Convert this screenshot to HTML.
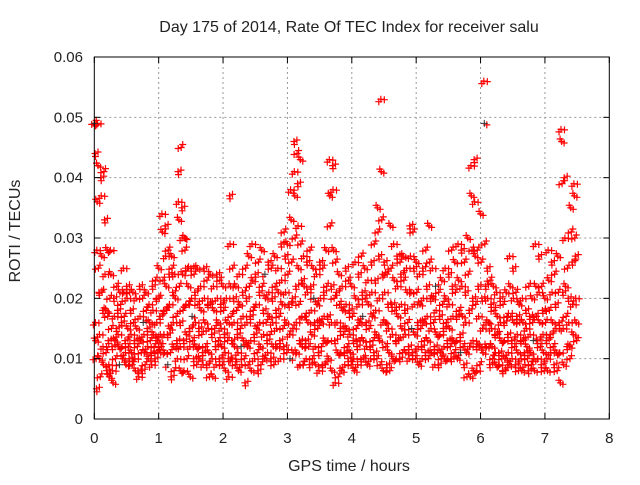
<!DOCTYPE html>
<html><head><meta charset="utf-8"><style>
body{margin:0;background:#fff}
svg text{font-family:"Liberation Sans",sans-serif;font-size:15px;fill:#222}
svg text.lab{font-size:16px}
</style></head><body>
<svg id="chart" width="640" height="480" viewBox="0 0 640 480" xmlns="http://www.w3.org/2000/svg">
<rect width="640" height="480" fill="#fff"/>
<g id="grid"></g>
<g id="pts"></g>
<rect x="94.3" y="57" width="515" height="362" fill="none" stroke="#000" stroke-width="1"/>
<g id="ticks"></g>
<text class="lab" x="349" y="32" text-anchor="middle">Day 175 of 2014, Rate Of TEC Index for receiver salu</text>
<text class="lab" x="349" y="471" text-anchor="middle">GPS time / hours</text>
<text class="lab" x="20" y="231" text-anchor="middle" transform="rotate(-90 20 231)">ROTI / TECUs</text>
</svg>
<script>
const xTicks=[0,1,2,3,4,5,6,7,8];
const yTicks=[0,0.01,0.02,0.03,0.04,0.05,0.06];
const yTickLabels=["0","0.01","0.02","0.03","0.04","0.05","0.06"];
const hours=[];for(let i=0;i<=149;i++)hours.push(+(i*0.05).toFixed(2));
const roti=[
[0.049,0.049,0.044,0.016,0.013,0.010,0.005,0.028,0.036],[0.049,0.042,0.025,0.021,0.014,0.010,0.007],[0.040,0.037,0.027,0.021,0.018,0.012,0.009],[0.041,0.033,0.024,0.018,0.011,0.008],[0.028,0.017,0.013,0.009,0.007,0.020],
[0.028,0.024,0.015,0.012,0.008,0.006],[0.020,0.017,0.013,0.010,0.015],[0.022,0.018,0.014,0.012,0.009],[0.021,0.019,0.016,0.012,0.010],[0.025,0.021,0.017,0.013,0.011,0.009],
[0.022,0.020,0.015,0.012,0.010],[0.021,0.018,0.014,0.011,0.009],[0.021,0.016,0.013,0.010,0.008],[0.020,0.015,0.012,0.008,0.007],[0.022,0.017,0.013,0.011,0.008],
[0.020,0.016,0.014,0.011,0.009],[0.021,0.018,0.015,0.012,0.010],[0.019,0.016,0.013,0.011,0.009],[0.022,0.018,0.014,0.012,0.010],[0.023,0.020,0.016,0.013,0.011],
[0.025,0.020,0.017,0.014,0.011,0.012],[0.034,0.031,0.023,0.018,0.014,0.011],[0.032,0.027,0.022,0.018,0.014,0.009],[0.028,0.024,0.019,0.015,0.011,0.007],[0.027,0.025,0.021,0.016,0.012,0.008],
[0.024,0.020,0.017,0.013,0.010],[0.041,0.036,0.033,0.022,0.016,0.012,0.008],[0.045,0.035,0.030,0.024,0.018,0.013,0.008],[0.030,0.028,0.025,0.019,0.014,0.010],[0.025,0.022,0.019,0.015,0.012,0.007],
[0.025,0.020,0.017,0.013,0.010],[0.024,0.021,0.016,0.012,0.009],[0.025,0.019,0.015,0.012,0.010],[0.022,0.018,0.014,0.011,0.009],[0.025,0.020,0.016,0.012,0.009],
[0.023,0.019,0.015,0.011,0.007],[0.024,0.019,0.014,0.010,0.007],[0.022,0.018,0.015,0.012,0.009],[0.024,0.020,0.016,0.013,0.010],[0.023,0.019,0.015,0.012,0.009],
[0.022,0.018,0.014,0.011,0.008],[0.020,0.016,0.013,0.010,0.007],[0.037,0.029,0.022,0.017,0.013,0.010],[0.025,0.020,0.016,0.012,0.009],[0.022,0.018,0.014,0.011,0.008],
[0.024,0.019,0.015,0.012,0.009],[0.021,0.017,0.013,0.010,0.006],[0.025,0.020,0.016,0.012,0.009],[0.027,0.022,0.017,0.013,0.008],[0.029,0.023,0.018,0.014,0.010],
[0.024,0.019,0.015,0.011,0.008],[0.026,0.021,0.016,0.012,0.009],[0.028,0.022,0.018,0.014,0.010],[0.024,0.020,0.016,0.013,0.011],[0.026,0.021,0.017,0.014,0.010],
[0.025,0.020,0.016,0.012,0.009],[0.027,0.022,0.018,0.015,0.012],[0.025,0.021,0.017,0.013,0.010],[0.029,0.023,0.019,0.015,0.012],[0.031,0.027,0.021,0.016,0.011],
[0.029,0.024,0.019,0.014,0.010],[0.038,0.033,0.026,0.020,0.015,0.011],[0.046,0.041,0.037,0.030,0.022,0.016,0.011],[0.044,0.039,0.032,0.025,0.019,0.013,0.009],[0.043,0.029,0.023,0.017,0.012,0.009],
[0.027,0.022,0.017,0.013,0.010],[0.026,0.021,0.016,0.012,0.009],[0.028,0.022,0.018,0.014,0.010],[0.025,0.020,0.016,0.012,0.009],[0.024,0.019,0.015,0.011,0.008],
[0.026,0.020,0.016,0.012,0.009],[0.025,0.021,0.017,0.013,0.009],[0.028,0.022,0.017,0.013,0.010],[0.043,0.037,0.032,0.022,0.016,0.008],[0.042,0.038,0.028,0.020,0.013,0.006],
[0.026,0.021,0.016,0.011,0.007],[0.024,0.019,0.015,0.011,0.008],[0.022,0.018,0.014,0.011,0.009],[0.025,0.019,0.015,0.012,0.010],[0.023,0.018,0.014,0.011,0.009],
[0.022,0.017,0.013,0.010,0.008],[0.026,0.020,0.015,0.012,0.009],[0.024,0.019,0.016,0.013,0.010],[0.027,0.021,0.017,0.013,0.010],[0.025,0.020,0.016,0.012,0.009],
[0.023,0.019,0.015,0.012,0.010],[0.026,0.021,0.017,0.013,0.011],[0.029,0.023,0.018,0.014,0.010],[0.035,0.031,0.027,0.020,0.013,0.009],[0.053,0.041,0.033,0.024,0.016,0.008],
[0.026,0.021,0.016,0.012,0.009],[0.024,0.019,0.015,0.011,0.008],[0.032,0.025,0.019,0.014,0.010],[0.029,0.023,0.018,0.013,0.010],[0.027,0.022,0.017,0.013,0.010],
[0.026,0.024,0.019,0.015,0.011],[0.027,0.023,0.018,0.014,0.011],[0.025,0.021,0.016,0.012,0.010],[0.032,0.027,0.021,0.015,0.011],[0.031,0.025,0.019,0.014,0.010],
[0.026,0.021,0.016,0.012,0.009],[0.024,0.019,0.015,0.012,0.010],[0.025,0.020,0.016,0.013,0.011],[0.028,0.022,0.017,0.013,0.010],[0.032,0.026,0.020,0.015,0.011],
[0.025,0.020,0.016,0.012,0.009],[0.022,0.018,0.014,0.011,0.009],[0.021,0.017,0.014,0.011,0.010],[0.023,0.019,0.015,0.012,0.010],[0.025,0.020,0.016,0.013,0.010],
[0.024,0.019,0.015,0.012,0.010],[0.028,0.022,0.017,0.013,0.011],[0.026,0.021,0.017,0.013,0.010],[0.029,0.023,0.018,0.014,0.011],[0.028,0.022,0.017,0.012,0.009],
[0.026,0.021,0.016,0.011,0.007],[0.030,0.024,0.018,0.012,0.007],[0.042,0.037,0.028,0.020,0.013,0.008],[0.043,0.036,0.027,0.019,0.012,0.008],[0.028,0.022,0.017,0.012,0.009],
[0.034,0.026,0.020,0.015,0.011],[0.056,0.049,0.029,0.022,0.016,0.012],[0.025,0.020,0.016,0.012,0.009],[0.023,0.019,0.015,0.012,0.010],[0.022,0.018,0.014,0.011,0.009],
[0.021,0.017,0.014,0.011,0.009],[0.020,0.016,0.013,0.010,0.008],[0.019,0.016,0.013,0.010,0.008],[0.021,0.017,0.014,0.011,0.009],[0.027,0.022,0.017,0.013,0.010],
[0.025,0.020,0.016,0.012,0.009],[0.021,0.017,0.014,0.011,0.008],[0.019,0.016,0.013,0.010,0.008],[0.020,0.016,0.013,0.011,0.009],[0.018,0.015,0.012,0.010,0.008],
[0.022,0.017,0.014,0.011,0.009],[0.020,0.016,0.013,0.010,0.008],[0.029,0.022,0.017,0.013,0.010],[0.027,0.021,0.016,0.012,0.009],[0.022,0.018,0.014,0.011,0.008],
[0.020,0.016,0.013,0.010,0.008],[0.028,0.023,0.018,0.014,0.011],[0.026,0.021,0.016,0.012,0.009],[0.024,0.019,0.015,0.011,0.008],[0.027,0.021,0.016,0.011,0.006],
[0.048,0.046,0.039,0.021,0.015,0.009],[0.040,0.030,0.022,0.017,0.012],[0.025,0.020,0.016,0.012,0.010],[0.035,0.031,0.026,0.019,0.014],[0.039,0.037,0.030,0.027,0.020,0.016,0.013]
];
const X0=94.3,X1=609.3,Y0=419,Y1=57;
const xs=v=>X0+(v-0)/(8-0)*(X1-X0);
const ys=v=>Y0-(v-0)/(0.06-0)*(Y0-Y1);
const NS="http://www.w3.org/2000/svg";
const grid=document.getElementById('grid'),ticks=document.getElementById('ticks'),pts=document.getElementById('pts');
function mk(tag,attrs,parent){const e=document.createElementNS(NS,tag);for(const k in attrs)e.setAttribute(k,attrs[k]);parent.appendChild(e);return e;}
xTicks.forEach((t,i)=>{const x=xs(t);
 if(i>0&&i<xTicks.length-1){const g=mk('line',{x1:x,x2:x,y1:Y1,y2:Y0,stroke:'#999','stroke-dasharray':'2,3'},grid);
 
 }
 mk('line',{x1:x,x2:x,y1:Y0,y2:Y0-6,stroke:'#000'},ticks);mk('line',{x1:x,x2:x,y1:Y1,y2:Y1+6,stroke:'#000'},ticks);
 const tx=mk('text',{x:x,y:443,'text-anchor':'middle'},ticks);tx.textContent=String(t);
 
 
});
yTicks.forEach((t,i)=>{const y=ys(t);
 if(i>0&&i<yTicks.length-1){const g=mk('line',{x1:X0,x2:X1,y1:y,y2:y,stroke:'#999','stroke-dasharray':'2,3'},grid);
 
 }
 mk('line',{x1:X0,x2:X0+6,y1:y,y2:y,stroke:'#000'},ticks);mk('line',{x1:X1,x2:X1-6,y1:y,y2:y,stroke:'#000'},ticks);
 const tx=mk('text',{x:83,y:y+5,'text-anchor':'end'},ticks);tx.textContent=yTickLabels[i];
 
 
});
function plus(x,y){return `M${(x-3.5).toFixed(1)} ${y.toFixed(1)}h7M${x.toFixed(1)} ${(y-3.5).toFixed(1)}v7`;}
const offs=[[[2.5,1.5],[-1.5,-2.5]],[[-3,1],[1.5,-3]],[[3,-1.5],[0.5,3]],[[-2,2.5],[3.5,0.5]]];
let d='',dd='';
hours.forEach((h,i)=>{const g=roti[i]||[];g.forEach((v,j)=>{
 const x=xs(h+0.05*j/g.length),y=ys(v);
 const o=offs[(i*3+j*5)%4];
 if((i*7+j)%53===0){dd+=plus(x,y);d+=plus(x+o[0][0],y+o[0][1]);}
 else d+=plus(x,y)+plus(x+o[0][0],y+o[0][1])+plus(x+o[1][0],y+o[1][1]);
});});
const p1=mk('path',{d:d,stroke:'#f00','stroke-width':1.2,fill:'none'},pts);


const p2=mk('path',{d:dd,stroke:'#333','stroke-width':1,fill:'none'},pts);


</script>
</body></html>
